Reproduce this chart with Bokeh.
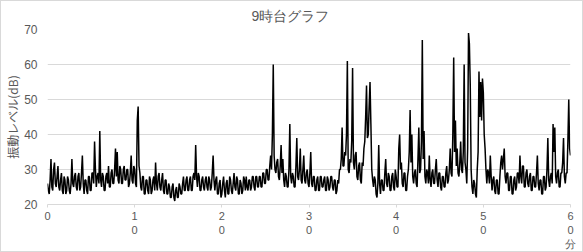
from bokeh.plotting import figure
from bokeh.models import FixedTicker, Range1d, Title
from bokeh.embed import file_html
from bokeh.resources import INLINE

TITLE = "9時台グラフ"
Y_LABEL = "振動レベル(dB)"
X_UNIT = "分"
STEP_MIN = 0.1  # sampling step of the listed readings, minutes

# vibration level readings (dB), one every 0.1 min from 0 to 60 min
# (each row = 2 minutes)
levels = [
    26, 24, 23, 27, 33, 25, 24, 30, 32, 26, 25, 28, 31, 25, 24, 27, 29, 24, 23, 28,
    27, 23, 24, 28, 27, 24, 23, 26, 33, 26, 25, 28, 29, 25, 24, 28, 29, 24, 25, 29,
    34, 26, 23, 27, 27, 24, 23, 28, 28, 24, 24, 29, 29, 26, 38, 30, 25, 28, 29, 26,
    41, 27, 25, 29, 28, 24, 24, 28, 29, 26, 31, 25, 25, 29, 30, 26, 26, 30, 36, 28,
    35, 27, 26, 31, 30, 26, 26, 30, 31, 27, 27, 30, 30, 25, 26, 29, 34, 27, 26, 31,
    30, 26, 25, 44, 48, 31, 29, 25, 24, 28, 28, 23, 23, 27, 27, 24, 23, 28, 27, 23,
    24, 27, 28, 24, 32, 26, 24, 28, 29, 25, 24, 27, 29, 24, 23, 27, 27, 23, 23, 26,
    25, 22, 22, 25, 26, 22, 21, 24, 25, 22, 22, 26, 25, 23, 23, 26, 28, 24, 24, 27,
    28, 24, 24, 27, 28, 24, 24, 28, 29, 27, 37, 28, 25, 29, 28, 24, 24, 27, 28, 25,
    24, 27, 28, 25, 24, 28, 27, 24, 25, 29, 34, 27, 24, 27, 28, 23, 23, 26, 27, 22,
    23, 26, 28, 24, 22, 26, 27, 23, 23, 28, 27, 24, 23, 26, 29, 25, 24, 28, 27, 23,
    23, 27, 26, 23, 24, 28, 27, 24, 28, 25, 24, 27, 27, 24, 25, 28, 28, 25, 24, 28,
    28, 25, 25, 28, 28, 25, 25, 29, 29, 26, 26, 30, 30, 27, 27, 31, 34, 30, 40, 60,
    34, 30, 29, 32, 33, 28, 27, 31, 37, 29, 33, 27, 25, 29, 28, 25, 25, 30, 43, 28,
    26, 29, 28, 25, 25, 31, 39, 28, 27, 30, 36, 27, 26, 30, 34, 27, 26, 29, 30, 26,
    25, 29, 35, 26, 25, 28, 28, 24, 24, 27, 28, 24, 24, 28, 28, 25, 25, 27, 28, 24,
    24, 28, 27, 24, 25, 28, 28, 25, 24, 27, 27, 23, 24, 27, 26, 30, 30, 33, 42, 31,
    31, 35, 34, 40, 61, 30, 29, 33, 32, 38, 59, 32, 30, 34, 35, 28, 27, 31, 32, 27,
    26, 32, 31, 36, 38, 45, 54, 39, 40, 48, 55, 43, 30, 27, 25, 28, 27, 23, 22, 26,
    37, 26, 23, 27, 27, 24, 24, 29, 33, 26, 25, 29, 28, 24, 24, 28, 29, 25, 24, 30,
    28, 25, 25, 36, 40, 30, 32, 26, 25, 29, 29, 24, 24, 28, 30, 35, 47, 32, 40, 28,
    26, 29, 30, 26, 25, 33, 42, 29, 30, 38, 67, 33, 41, 28, 26, 30, 29, 26, 34, 27,
    25, 29, 30, 26, 26, 30, 33, 27, 25, 29, 29, 25, 24, 28, 28, 25, 25, 29, 31, 26,
    27, 30, 36, 29, 28, 40, 62, 35, 44, 31, 36, 29, 28, 32, 38, 30, 29, 35, 60, 32,
    30, 26, 36, 69, 66, 54, 30, 25, 23, 27, 26, 23, 22, 30, 35, 58, 45, 55, 44, 56,
    52, 40, 36, 30, 26, 30, 29, 26, 34, 28, 24, 27, 28, 24, 23, 27, 27, 23, 23, 28,
    32, 34, 30, 33, 36, 28, 26, 29, 29, 24, 24, 28, 28, 23, 23, 27, 28, 24, 25, 29,
    29, 26, 34, 28, 26, 31, 31, 25, 25, 29, 30, 26, 25, 28, 29, 24, 24, 28, 28, 25,
    25, 29, 34, 26, 24, 27, 27, 23, 23, 28, 28, 24, 25, 30, 39, 27, 25, 28, 29, 26,
    43, 35, 42, 28, 26, 29, 30, 25, 25, 29, 29, 32, 39, 28, 26, 29, 29, 38, 50, 36,
    34,
]
minutes = [i * STEP_MIN for i in range(len(levels))]

x_ticks = [0, 10, 20, 30, 40, 50, 60]
x_tick_labels = ["0", "1\n0", "2\n0", "3\n0", "4\n0", "5\n0", "6\n0\n" + X_UNIT]
y_ticks = [20, 30, 40, 50, 60, 70]

CJK = "Noto Sans CJK JP"
NUM = "Liberation Sans"
GREY = "#595959"

p = figure(
    width=583, height=252,
    output_backend="svg", toolbar_location=None,
    x_range=Range1d(0, 60), y_range=Range1d(20, 70),
    min_border_left=46, min_border_right=14,
    min_border_top=28, min_border_bottom=49,
    background_fill_color="white", border_fill_color="white",
)
p.styles = {"border": "1px solid #d9d9d9", "box-sizing": "border-box"}
p.outline_line_color = None
p.title.visible = False

p.line(minutes, levels, line_color="black", line_width=1.5)

# x axis
xa = p.xaxis[0]
xa.ticker = FixedTicker(ticks=x_ticks)
xa.major_label_overrides = {t: s for t, s in zip(x_ticks, x_tick_labels)}
xa.axis_line_color = "#d9d9d9"
xa.major_tick_line_color = "#d9d9d9"
xa.major_tick_in = 0
xa.major_tick_out = 3
xa.minor_tick_line_color = None
xa.major_label_text_font = NUM
xa.major_label_text_font_size = "11px"
xa.major_label_text_color = GREY
xa.major_label_standoff = 2

# y axis
ya = p.yaxis[0]
ya.ticker = FixedTicker(ticks=y_ticks)
ya.axis_line_color = None
ya.major_tick_line_color = None
ya.minor_tick_line_color = None
ya.major_label_text_font = NUM
ya.major_label_text_font_size = "12px"
ya.major_label_text_color = GREY
ya.major_label_standoff = 4
ya.axis_label = Y_LABEL
ya.axis_label_text_font = CJK
ya.axis_label_text_font_size = "12px"
ya.axis_label_text_font_style = "normal"
ya.axis_label_text_color = GREY
ya.axis_label_standoff = 0

p.xgrid.grid_line_color = None
p.ygrid.grid_line_color = "#d9d9d9"
p.ygrid.ticker = FixedTicker(ticks=y_ticks)

p.add_layout(Title(text=TITLE, align="left", offset=204, standoff=7,
                   vertical_align="top",
                   text_font=NUM, text_font_size="14px",
                   text_font_style="normal", text_color=GREY), "above")

open("out.html", "w").write(file_html(p, INLINE))
